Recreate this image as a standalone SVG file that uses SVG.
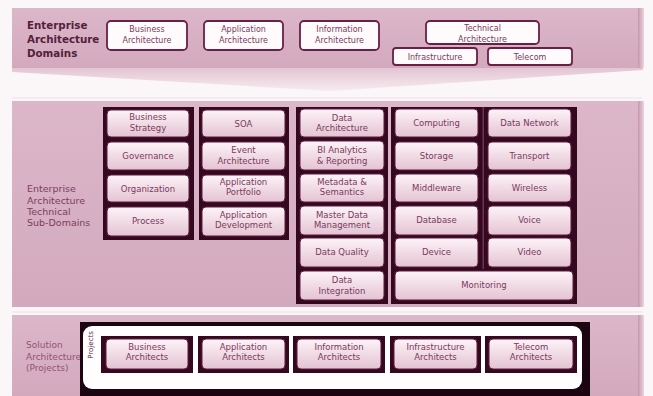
<svg xmlns="http://www.w3.org/2000/svg" width="653" height="396" viewBox="0 0 653 396">
<style>
.band{fill:url(#bandg)}
.frame{fill:#34091f}
.box{fill:url(#boxg);stroke:#5e1d3e;stroke-width:1}
.tbox{fill:#fffafc;stroke:#6a1f44;stroke-width:1.8}
.t{font-family:"DejaVu Sans",Verdana,sans-serif;font-size:8.5px;fill:#7a3a5c;text-anchor:middle}
.ts{font-family:"DejaVu Sans",Verdana,sans-serif;font-size:8px;fill:#7a3a5c;text-anchor:middle}
.lbl{font-family:"DejaVu Sans",Verdana,sans-serif;font-size:9.5px;fill:#7b3d5e}
.hd{font-family:"DejaVu Sans",Verdana,sans-serif;font-size:10.3px;font-weight:bold;fill:#54213c}
</style>
<defs>
<linearGradient id="boxg" x1="0" y1="0" x2="0" y2="1">
<stop offset="0" stop-color="#fdf3f8"/>
<stop offset="1" stop-color="#e4c3d2"/>
</linearGradient>
<linearGradient id="bandg" x1="0" y1="0" x2="0" y2="1">
<stop offset="0" stop-color="#dcb7c9"/>
<stop offset="1" stop-color="#d3a9bd"/>
</linearGradient>
<linearGradient id="wedge" x1="0" y1="0" x2="0" y2="1">
<stop offset="0" stop-color="#e2c1d1"/>
<stop offset="1" stop-color="#f6ebf0"/>
</linearGradient>
<linearGradient id="shade" x1="0" y1="0" x2="1" y2="0">
<stop offset="0" stop-color="#c795ad"/>
<stop offset="1" stop-color="#ead6df"/>
</linearGradient>
</defs>
<rect x="0" y="0" width="653" height="396" fill="#fbf6f8"/>

<!-- Top band -->
<g id="band-domains">
<polygon points="12,66 643,66 643,70 330,91 12,72" fill="url(#wedge)"/>
<rect class="band" x="12" y="8" width="630" height="60"/>
<rect x="638" y="8" width="6" height="60" fill="url(#shade)"/>
<text class="hd" x="27" y="29">Enterprise</text>
<text class="hd" x="27" y="43">Architecture</text>
<text class="hd" x="27" y="57">Domains</text>
</g>
<g id="business-architecture">
<rect class="tbox" x="107" y="21" width="80" height="29" rx="4"/>
<text class="ts" x="147" y="32">Business</text>
<text class="ts" x="147" y="43">Architecture</text>
</g>
<g id="application-architecture">
<rect class="tbox" x="204" y="21" width="79" height="29" rx="4"/>
<text class="ts" x="243.5" y="32">Application</text>
<text class="ts" x="243.5" y="43">Architecture</text>
</g>
<g id="information-architecture">
<rect class="tbox" x="300" y="21" width="79" height="29" rx="4"/>
<text class="ts" x="339.5" y="32">Information</text>
<text class="ts" x="339.5" y="43">Architecture</text>
</g>
<g id="technical-architecture">
<rect class="tbox" x="426" y="21" width="113" height="23" rx="4"/>
<text class="ts" x="482.5" y="31">Technical</text>
<text class="ts" x="482.5" y="42">Architecture</text>
</g>
<g id="infrastructure">
<rect class="tbox" x="393" y="48" width="84" height="17" rx="3"/>
<text class="ts" x="435" y="60">Infrastructure</text>
</g>
<g id="telecom">
<rect class="tbox" x="488" y="48" width="84" height="17" rx="3"/>
<text class="ts" x="530" y="60">Telecom</text>
</g>

<!-- Middle band -->
<g id="band-subdomains">
<line x1="12" y1="98" x2="642" y2="98" stroke="#efe0e7" stroke-width="1"/>
<rect class="band" x="12" y="101" width="630" height="206"/>
<rect x="638" y="101" width="6" height="206" fill="url(#shade)"/>
<text class="lbl" x="27" y="192">Enterprise</text>
<text class="lbl" x="27" y="204">Architecture</text>
<text class="lbl" x="27" y="215">Technical</text>
<text class="lbl" x="27" y="226">Sub-Domains</text>
</g>

<g id="col-business">
<rect class="frame" x="103" y="107" width="91" height="133"/>
<g id="business-strategy"><rect class="box" x="107" y="110" width="82" height="27" rx="4"/>
<text class="t" x="148" y="120">Business</text><text class="t" x="148" y="131">Strategy</text></g>
<g id="governance"><rect class="box" x="107" y="142" width="82" height="28" rx="4"/>
<text class="t" x="148" y="159">Governance</text></g>
<g id="organization"><rect class="box" x="107" y="175" width="82" height="27" rx="4"/>
<text class="t" x="148" y="192">Organization</text></g>
<g id="process"><rect class="box" x="107" y="207" width="82" height="29" rx="4"/>
<text class="t" x="148" y="224">Process</text></g>
</g>

<g id="col-application">
<rect class="frame" x="199" y="107" width="90" height="133"/>
<g id="soa"><rect class="box" x="202" y="110" width="83" height="27" rx="4"/>
<text class="t" x="243.5" y="127">SOA</text></g>
<g id="event-architecture"><rect class="box" x="202" y="142" width="83" height="28" rx="4"/>
<text class="t" x="243.5" y="153">Event</text><text class="t" x="243.5" y="164">Architecture</text></g>
<g id="application-portfolio"><rect class="box" x="202" y="175" width="83" height="27" rx="4"/>
<text class="t" x="243.5" y="185">Application</text><text class="t" x="243.5" y="195">Portfolio</text></g>
<g id="application-development"><rect class="box" x="202" y="207" width="83" height="29" rx="4"/>
<text class="t" x="243.5" y="218">Application</text><text class="t" x="243.5" y="228">Development</text></g>
</g>

<g id="col-information">
<rect class="frame" x="296" y="107" width="92" height="197"/>
<g id="data-architecture"><rect class="box" x="300" y="109" width="84" height="28" rx="4"/>
<text class="t" x="342" y="121">Data</text><text class="t" x="342" y="131">Architecture</text></g>
<g id="bi-analytics"><rect class="box" x="300" y="141" width="84" height="29" rx="4"/>
<text class="t" x="342" y="153">BI Analytics</text><text class="t" x="342" y="164">&amp; Reporting</text></g>
<g id="metadata"><rect class="box" x="300" y="174" width="84" height="28" rx="4"/>
<text class="t" x="342" y="185">Metadata &amp;</text><text class="t" x="342" y="195">Semantics</text></g>
<g id="master-data"><rect class="box" x="300" y="206" width="84" height="29" rx="4"/>
<text class="t" x="342" y="218">Master Data</text><text class="t" x="342" y="228">Management</text></g>
<g id="data-quality"><rect class="box" x="300" y="238" width="84" height="29" rx="4"/>
<text class="t" x="342" y="255">Data Quality</text></g>
<g id="data-integration"><rect class="box" x="300" y="271" width="84" height="29" rx="4"/>
<text class="t" x="342" y="283">Data</text><text class="t" x="342" y="294">Integration</text></g>
</g>

<g id="col-technical">
<rect class="frame" x="391" y="107" width="186" height="197"/>
<rect x="482.5" y="107" width="1.5" height="162" fill="#6b3450"/>
<g id="computing"><rect class="box" x="395" y="109" width="83" height="28" rx="4"/>
<text class="t" x="436.5" y="126">Computing</text></g>
<g id="storage"><rect class="box" x="395" y="142" width="83" height="28" rx="4"/>
<text class="t" x="436.5" y="159">Storage</text></g>
<g id="middleware"><rect class="box" x="395" y="174" width="83" height="28" rx="4"/>
<text class="t" x="436.5" y="191">Middleware</text></g>
<g id="database"><rect class="box" x="395" y="206" width="83" height="29" rx="4"/>
<text class="t" x="436.5" y="223">Database</text></g>
<g id="device"><rect class="box" x="395" y="238" width="83" height="29" rx="4"/>
<text class="t" x="436.5" y="255">Device</text></g>
<g id="data-network"><rect class="box" x="488" y="109" width="83" height="28" rx="4"/>
<text class="t" x="529.5" y="126">Data Network</text></g>
<g id="transport"><rect class="box" x="488" y="142" width="83" height="28" rx="4"/>
<text class="t" x="529.5" y="159">Transport</text></g>
<g id="wireless"><rect class="box" x="488" y="174" width="83" height="28" rx="4"/>
<text class="t" x="529.5" y="191">Wireless</text></g>
<g id="voice"><rect class="box" x="488" y="206" width="83" height="29" rx="4"/>
<text class="t" x="529.5" y="223">Voice</text></g>
<g id="video"><rect class="box" x="488" y="238" width="83" height="29" rx="4"/>
<text class="t" x="529.5" y="255">Video</text></g>
<g id="monitoring"><rect class="box" x="395" y="271" width="178" height="29" rx="4"/>
<text class="t" x="484" y="288">Monitoring</text></g>
</g>

<!-- Bottom band -->
<g id="band-solution">
<line x1="12" y1="312" x2="642" y2="312" stroke="#efe0e7" stroke-width="1"/>
<rect class="band" x="12" y="315" width="630" height="81"/>
<rect x="638" y="315" width="6" height="81" fill="url(#shade)"/>
<text class="lbl" x="26" y="348" style="font-size:9px;fill:#935272">Solution</text>
<text class="lbl" x="26" y="360" style="font-size:9px;fill:#935272">Architecture</text>
<text class="lbl" x="26" y="371" style="font-size:9px;fill:#935272">(Projects)</text>
<rect x="80" y="322" width="510" height="74" fill="#1a0510"/>
<rect x="83" y="326" width="499" height="63" rx="9" fill="#fffdfe"/>
<text x="93" y="345" transform="rotate(-90 93 345)" style="font-family:'DejaVu Sans',sans-serif;font-size:7px;fill:#5a2440;text-anchor:middle">Projects</text>
</g>
<g id="business-architects">
<rect class="frame" x="101" y="336" width="92" height="37"/>
<rect class="box" x="106" y="339" width="82" height="30" rx="4"/>
<text class="t" x="147" y="350">Business</text><text class="t" x="147" y="360">Architects</text>
</g>
<g id="application-architects">
<rect class="frame" x="198" y="336" width="91" height="37"/>
<rect class="box" x="202" y="339" width="83" height="30" rx="4"/>
<text class="t" x="243.5" y="350">Application</text><text class="t" x="243.5" y="360">Architects</text>
</g>
<g id="information-architects">
<rect class="frame" x="293" y="336" width="92" height="37"/>
<rect class="box" x="297" y="339" width="84" height="30" rx="4"/>
<text class="t" x="339" y="350">Information</text><text class="t" x="339" y="360">Architects</text>
</g>
<g id="infrastructure-architects">
<rect class="frame" x="390" y="336" width="91" height="37"/>
<rect class="box" x="394" y="339" width="83" height="30" rx="4"/>
<text class="t" x="435.5" y="350">Infrastructure</text><text class="t" x="435.5" y="360">Architects</text>
</g>
<g id="telecom-architects">
<rect class="frame" x="485" y="336" width="92" height="37"/>
<rect class="box" x="489" y="339" width="84" height="30" rx="4"/>
<text class="t" x="531" y="350">Telecom</text><text class="t" x="531" y="360">Architects</text>
</g>
</svg>
